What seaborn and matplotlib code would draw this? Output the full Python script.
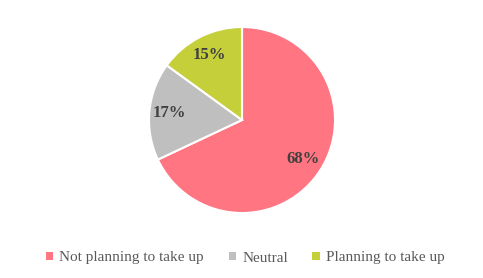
import matplotlib
matplotlib.use("Agg")
import matplotlib.pyplot as plt
import seaborn as sns
from matplotlib.patches import Patch

sns.set_style("white")
plt.rcParams['font.family'] = ['Liberation Serif', 'DejaVu Serif']

categories = ["Not planning to take up", "Neutral", "Planning to take up"]
values = [68, 17, 15]
colors = sns.color_palette(["#FF7582", "#BFBFBF", "#C5CF3A"])

fig = plt.figure(figsize=(4.83, 2.78), dpi=100)
cx, cy, r = 242, 120, 93
W, H = 483, 278
ax = fig.add_axes([(cx - r) / W, (H - cy - r) / H, 2 * r / W, 2 * r / H])

wedges, texts, autotexts = ax.pie(
    values, colors=colors, startangle=90, counterclock=False,
    autopct=lambda p: f"{p:.0f}%", pctdistance=0.78,
    wedgeprops=dict(edgecolor="white", linewidth=1.5),
    textprops=dict(fontsize=12, fontweight="bold", color="#404040"),
    radius=1.0,
)
ax.set_xlim(-1, 1)
ax.set_ylim(-1, 1)
ax.set_aspect("equal")
ax.axis("off")

handles = [Patch(facecolor=c, edgecolor="none") for c in colors]
fig.legend(handles, categories, loc="center", bbox_to_anchor=(0.508, (H - 258) / H),
           ncol=3, frameon=False, fontsize=11, handlelength=0.5, handleheight=0.5,
           handletextpad=0.4, columnspacing=1.6, labelcolor="#595959")

fig.savefig("out.png", dpi=100)
